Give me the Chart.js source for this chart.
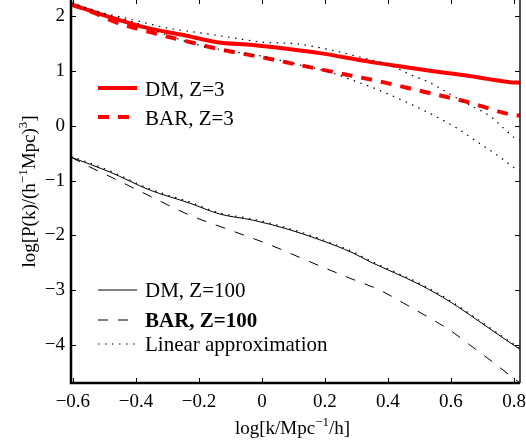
<!DOCTYPE html>
<html>
<head>
<meta charset="utf-8">
<script src="https://cdn.jsdelivr.net/npm/chart.js@4.4.1/dist/chart.umd.min.js"></script>
<style>
  html, body { margin: 0; padding: 0; background: #ffffff; }
  #wrap { width: 526px; height: 447px; }
</style>
</head>
<body>
<div id="wrap"><canvas id="c" width="526" height="447"></canvas></div>
<script>
// ---- Data ----
const xTickValues = [-0.6, -0.4, -0.2, 0, 0.2, 0.4, 0.6, 0.8];
const xTickLabels = ['\u22120.6', '\u22120.4', '\u22120.2', '0', '0.2', '0.4', '0.6', '0.8'];
const yTickValues = [-4, -3, -2, -1, 0, 1, 2];
const yTickLabels = ['\u22124', '\u22123', '\u22122', '\u22121', '0', '1', '2'];

// DM, Z=3
const xDM3 = [-0.606, -0.505, -0.365, -0.250, -0.143, -0.029, 0.079, 0.184, 0.343, 0.448, 0.556, 0.660, 0.714, 0.787, 0.819];
const yDM3 = [2.22, 2.03, 1.79, 1.66, 1.53, 1.48, 1.41, 1.33, 1.17, 1.08, 0.99, 0.91, 0.86, 0.80, 0.79];
// BAR, Z=3
const xBAR3 = [-0.606, -0.530, -0.467, -0.340, -0.206, -0.143, -0.006, 0.121, 0.257, 0.384, 0.517, 0.651, 0.781, 0.819];
const yBAR3 = [2.22, 2.06, 1.90, 1.69, 1.50, 1.41, 1.26, 1.11, 0.95, 0.80, 0.62, 0.44, 0.22, 0.19];
// Linear approximation, Z=3 (upper)
const xLin3a = [-0.606, -0.514, -0.410, -0.302, -0.197, -0.092, 0.003, 0.108, 0.216, 0.343, 0.406, 0.470, 0.533, 0.597, 0.660, 0.724, 0.765, 0.803, 0.819];
const yLin3a = [2.25, 2.08, 1.94, 1.79, 1.70, 1.61, 1.53, 1.50, 1.39, 1.21, 1.11, 0.94, 0.79, 0.58, 0.38, 0.18, -0.03, -0.22, -0.26];
// Linear approximation, Z=3 (lower)
const xLin3b = [-0.606, -0.514, -0.410, -0.302, -0.181, -0.092, 0.003, 0.108, 0.216, 0.280, 0.343, 0.406, 0.479, 0.556, 0.619, 0.683, 0.746, 0.803, 0.819];
const yLin3b = [2.25, 2.06, 1.90, 1.66, 1.45, 1.36, 1.27, 1.13, 0.98, 0.85, 0.72, 0.57, 0.38, 0.16, -0.04, -0.29, -0.53, -0.77, -0.82];
// DM, Z=100
const xDM100 = [-0.606, -0.483, -0.356, -0.229, -0.133, -0.029, 0.079, 0.184, 0.289, 0.343, 0.416, 0.502, 0.597, 0.692, 0.765, 0.819];
const yDM100 = [-0.57, -0.84, -1.17, -1.41, -1.61, -1.72, -1.88, -2.08, -2.32, -2.48, -2.67, -2.90, -3.21, -3.58, -3.87, -4.08];
// BAR, Z=100
const xBAR100 = [-0.606, -0.546, -0.473, -0.349, -0.229, -0.102, 0.025, 0.152, 0.279, 0.375, 0.448, 0.533, 0.597, 0.660, 0.746, 0.797, 0.819];
const yBAR100 = [-0.57, -0.75, -0.95, -1.30, -1.63, -1.90, -2.17, -2.48, -2.78, -3.00, -3.23, -3.51, -3.73, -4.00, -4.37, -4.60, -4.69];
// Linear approximation, Z=100
const xLin100 = [-0.606, -0.483, -0.356, -0.229, -0.133, -0.029, 0.079, 0.184, 0.289, 0.343, 0.416, 0.502, 0.597, 0.692, 0.765, 0.819];
const yLin100 = [-0.55, -0.82, -1.15, -1.39, -1.59, -1.70, -1.86, -2.06, -2.30, -2.46, -2.65, -2.88, -3.19, -3.56, -3.85, -4.06];

const pts = (xs, ys) => xs.map((x, i) => ({ x: x, y: ys[i] }));

const SERIF = 'Liberation Serif';
Chart.defaults.font.family = SERIF;

// legend entries (drawn inside the plot)
const legendItems = [
  { label: 'DM, Z=3', color: '#ff0000', width: 4, dash: [], y: 88, base: 96, bold: false },
  { label: 'BAR, Z=3', color: '#ff0000', width: 4, dash: [11, 9], y: 117, base: 125, bold: false },
  { label: 'DM, Z=100', color: '#000000', width: 1, dash: [], y: 290, base: 297, bold: false },
  { label: 'BAR, Z=100', color: '#000000', width: 1, dash: [10, 10], y: 320, base: 327, bold: true },
  { label: 'Linear approximation', color: '#000000', width: 1.2, dash: [1.5, 5.5], y: 344, base: 351, bold: false }
];

const framePlugin = {
  id: 'frame',
  afterDraw(chart) {
    const ctx = chart.ctx;
    const a = chart.chartArea;
    const xs = chart.scales.x, ys = chart.scales.y;
    ctx.save();
    ctx.setLineDash([]);
    ctx.strokeStyle = '#000';
    // inward tick marks
    ctx.lineWidth = 1;
    xTickValues.forEach(v => {
      const p = Math.round(xs.getPixelForValue(v)) + 0.5;
      ctx.beginPath(); ctx.moveTo(p, a.bottom); ctx.lineTo(p, a.bottom - 5); ctx.stroke();
      ctx.beginPath(); ctx.moveTo(p, a.top); ctx.lineTo(p, a.top + 4); ctx.stroke();
    });
    yTickValues.forEach(v => {
      const p = Math.round(ys.getPixelForValue(v)) + 0.5;
      ctx.beginPath(); ctx.moveTo(a.left, p); ctx.lineTo(a.left + 5, p); ctx.stroke();
      ctx.beginPath(); ctx.moveTo(a.right, p); ctx.lineTo(a.right - 5, p); ctx.stroke();
    });
    // frame
    ctx.lineWidth = 2.5;
    ctx.beginPath(); ctx.moveTo(a.left, a.top); ctx.lineTo(a.left, a.bottom); ctx.lineTo(a.right, a.bottom); ctx.stroke();
    ctx.lineWidth = 1.6;
    ctx.strokeStyle = '#222';
    ctx.beginPath(); ctx.moveTo(a.right, a.top); ctx.lineTo(a.right, a.bottom); ctx.stroke();

    // legend
    legendItems.forEach(it => {
      ctx.strokeStyle = it.color;
      ctx.lineWidth = it.width;
      ctx.setLineDash(it.dash);
      ctx.beginPath(); ctx.moveTo(98, it.y); ctx.lineTo(137, it.y); ctx.stroke();
      ctx.setLineDash([]);
      ctx.fillStyle = '#000';
      ctx.font = (it.bold ? 'bold ' : '') + '21px ' + SERIF;
      ctx.textAlign = 'left';
      ctx.textBaseline = 'alphabetic';
      ctx.fillText(it.label, 145, it.base);
    });

    // axis titles with superscripts
    const drawRich = (parts, x, y, align) => {
      let total = 0;
      parts.forEach(p => { ctx.font = (p.sup ? '13px ' : '19px ') + SERIF; p.w = ctx.measureText(p.t).width; total += p.w; });
      let cx = align === 'center' ? x - total / 2 : x;
      parts.forEach(p => {
        ctx.font = (p.sup ? '13px ' : '19px ') + SERIF;
        ctx.fillText(p.t, cx, p.sup ? y - 8 : y);
        cx += p.w;
      });
    };
    ctx.fillStyle = '#000';
    ctx.textAlign = 'left';
    ctx.textBaseline = 'alphabetic';
    drawRich([{ t: 'log[k/Mpc' }, { t: '\u22121', sup: true }, { t: '/h]' }], (a.left + a.right) / 2 - 3, 434, 'center');
    ctx.save();
    ctx.translate(35, (a.top + a.bottom) / 2);
    ctx.rotate(-Math.PI / 2);
    drawRich([{ t: 'log[P(k)/(h' }, { t: '\u22121', sup: true }, { t: 'Mpc)' }, { t: '3', sup: true }, { t: ']' }], 0, 0, 'center');
    ctx.restore();
    ctx.restore();
  }
};

const ds = (label, data, color, width, dash) => ({
  label: label, data: data, borderColor: color, backgroundColor: color,
  borderWidth: width, borderDash: dash, pointRadius: 0, fill: false,
  tension: 0.35, cubicInterpolationMode: 'monotone'
});

new Chart(document.getElementById('c'), {
  type: 'line',
  data: {
    datasets: [
      ds('Linear approximation (Z=3, a)', pts(xLin3a, yLin3a), '#000', 1.2, [1.5, 5.5]),
      ds('Linear approximation (Z=3, b)', pts(xLin3b, yLin3b), '#000', 1.2, [1.5, 5.5]),
      ds('Linear approximation (Z=100)', pts(xLin100, yLin100), '#000', 1.2, [1.5, 5.5]),
      ds('DM, Z=100', pts(xDM100, yDM100), '#000', 1, []),
      ds('BAR, Z=100', pts(xBAR100, yBAR100), '#000', 1, [10, 10]),
      ds('BAR, Z=3', pts(xBAR3, yBAR3), '#ff0000', 4, [11, 9]),
      ds('DM, Z=3', pts(xDM3, yDM3), '#ff0000', 4, [])
    ]
  },
  options: {
    responsive: false,
    animation: false,
    devicePixelRatio: 1,
    layout: { padding: { left: 0, right: 6, top: 0, bottom: 0 } },
    plugins: { legend: { display: false }, tooltip: { enabled: false } },
    scales: {
      x: {
        type: 'linear', min: -0.606, max: 0.819,
        afterBuildTicks: s => { s.ticks = xTickValues.map(v => ({ value: v })); },
        afterFit: s => { s.height = 64; s.paddingLeft = 0; s.paddingRight = 0; },
        grid: { display: false, drawTicks: false },
        border: { display: false },
        ticks: {
          color: '#000', font: { family: SERIF, size: 19 }, padding: 8, maxRotation: 0, autoSkip: false,
          callback: (v, i) => xTickLabels[i]
        }
      },
      y: {
        type: 'linear', min: -4.694, max: 2.30,
        afterBuildTicks: s => { s.ticks = yTickValues.map(v => ({ value: v })); },
        afterFit: s => { s.width = 71; s.paddingTop = 0; s.paddingBottom = 0; },
        grid: { display: false, drawTicks: false },
        border: { display: false },
        ticks: {
          color: '#000', font: { family: SERIF, size: 19 }, padding: 6, autoSkip: false,
          callback: (v, i) => yTickLabels[i]
        }
      }
    }
  },
  plugins: [framePlugin]
});
</script>
</body>
</html>
